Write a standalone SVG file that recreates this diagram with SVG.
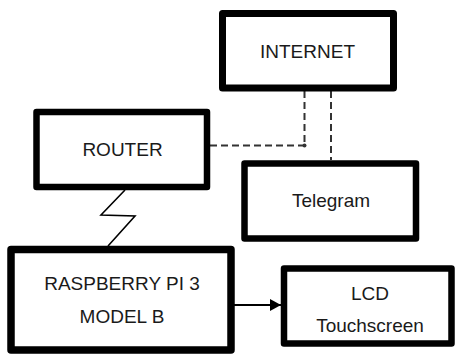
<svg xmlns="http://www.w3.org/2000/svg" width="455" height="354" viewBox="0 0 455 354">
<style>
.box{fill:#fff;stroke:#000;stroke-linejoin:round}
.t{font-family:"Liberation Sans",Arial,sans-serif;font-size:19px;fill:#1a1a1a;text-anchor:middle}
.dash{fill:none;stroke:#333;stroke-width:2;stroke-dasharray:7 4}
</style>
<defs>
<marker id="arr" markerWidth="12" markerHeight="12" refX="11" refY="6" orient="auto" markerUnits="userSpaceOnUse">
<path d="M0,0 L11,6 L0,12 Z" fill="#000"/>
</marker>
</defs>
<rect width="455" height="354" fill="#fff"/>
<g id="connectors">
<path class="dash" d="M304.5,91 V145.5"/>
<path class="dash" d="M210,145.5 H304.5"/>
<circle cx="304.5" cy="145.5" r="2" fill="#333"/>
<path class="dash" d="M331,91 V160"/>
<polyline points="125,190 101,215 135,216 108,246" fill="none" stroke="#000" stroke-width="1.6"/>
<line x1="234" y1="305" x2="281" y2="305" stroke="#000" stroke-width="1.8" marker-end="url(#arr)"/>
</g>
<g id="internet">
<rect class="box" x="222.5" y="13.5" width="171" height="74.5" stroke-width="7"/>
<text class="t" x="307.5" y="58">INTERNET</text>
</g>
<g id="router">
<rect class="box" x="36.5" y="112" width="170.5" height="75" stroke-width="6.5"/>
<text class="t" x="122.5" y="156">ROUTER</text>
</g>
<g id="telegram">
<rect class="box" x="244.5" y="163.5" width="171.5" height="75" stroke-width="6.5"/>
<text class="t" x="331" y="207">Telegram</text>
</g>
<g id="raspberry">
<rect class="box" x="11" y="249.5" width="220" height="100.5" stroke-width="7.5"/>
<text class="t" x="122" y="290">RASPBERRY PI 3</text>
<text class="t" x="122" y="323">MODEL B</text>
</g>
<g id="lcd">
<rect class="box" x="284" y="268.5" width="167.5" height="75" stroke-width="6.5"/>
<text class="t" x="370" y="300">LCD</text>
<text class="t" x="370" y="331.5">Touchscreen</text>
</g>
</svg>
